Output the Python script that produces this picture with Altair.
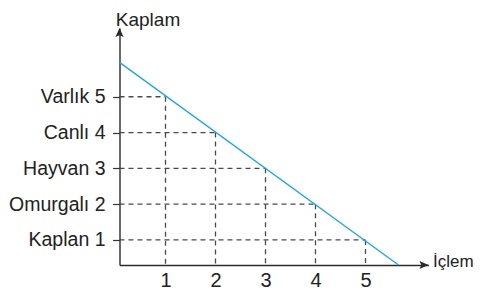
import altair as alt
import pandas as pd

# ---- data ----
levels = [1, 2, 3, 4, 5]
names = ["Kaplan", "Omurgalı", "Hayvan", "Canlı", "Varlık"]
x_ticks = [1, 2, 3, 4, 5]
point_x = [1, 2, 3, 4, 5]
point_y = [5, 4, 3, 2, 1]
line_x = [0.08, 5.66]
line_y = [5.96, 0.3]
X_MIN, X_MAX = 0.08, 6.26
Y_MIN, Y_MAX = 0.3, 6.92

FONT = "Liberation Sans"
AXIS_COLOR = "#2a2a2a"
TEXT_COLOR = "#222"
PX_PER_X = 50
PX_PER_Y = 35.8
PLOT_W = round((X_MAX - X_MIN) * PX_PER_X)
PLOT_H = round((Y_MAX - Y_MIN) * PX_PER_Y)
LEFT, TOP = 111.5, 20
SVG_W, SVG_H = 467, 284

xs = alt.Scale(domain=[X_MIN, X_MAX], nice=False, zero=False)
ys = alt.Scale(domain=[Y_MIN, Y_MAX], nice=False, zero=False)

label_expr = " : ".join(
    f"datum.value == {v} ? '{n} {v}'" for v, n in zip(levels, names)
) + " : ''"

df_pts = pd.DataFrame({"px": point_x, "py": point_y})
df_line = pd.DataFrame({"x": line_x, "y": line_y})
df_yarrow = pd.DataFrame({"x": [X_MIN], "y": [Y_MAX]})
df_xarrow = pd.DataFrame({"x": [X_MAX], "y": [Y_MIN]})

x_axis = alt.Axis(
    values=x_ticks, title="İçlem", grid=False, ticks=False, tickSize=0,
    labelPadding=5.5, labelFontSize=20, labelFont=FONT, labelColor=TEXT_COLOR,
    domainColor=AXIS_COLOR, domainWidth=1.4,
    titleFont=FONT, titleFontSize=17, titleFontWeight="normal", titleColor=TEXT_COLOR,
    titleAngle=0, titleAlign="left", titleBaseline="alphabetic",
    titleX=PLOT_W + 4, titleY=1.7, labelFlush=False, labelOverlap=False,
)
y_axis = alt.Axis(
    values=levels, labelExpr=label_expr, title="Kaplam", grid=False,
    ticks=True, tickSize=7, tickColor="#333", tickWidth=1.2,
    labelPadding=7.5, labelFontSize=19.5, labelFont=FONT, labelColor=TEXT_COLOR,
    domainColor=AXIS_COLOR, domainWidth=1.4,
    titleFont=FONT, titleFontSize=19, titleFontWeight="normal", titleColor=TEXT_COLOR,
    titleAngle=0, titleAlign="center", titleBaseline="alphabetic",
    titleX=28, titleY=-2.5, labelFlush=False, labelOverlap=False,
)

dash = dict(color="#4a4a4a", strokeWidth=1.3, strokeDash=[5, 4])

base_pts = alt.Chart(df_pts).transform_calculate(
    x0=str(X_MIN), y0=str(Y_MIN)
)
hrule = base_pts.mark_rule(**dash).encode(
    x=alt.X("x0:Q", scale=xs),
    x2="px:Q",
    y=alt.Y("py:Q", scale=ys),
)
vrule = base_pts.mark_rule(**dash).encode(
    x=alt.X("px:Q", scale=xs),
    y=alt.Y("py:Q", scale=ys),
    y2="y0:Q",
)
line = alt.Chart(df_line).mark_line(color="#1ba6e6", strokeWidth=1.3).encode(
    x=alt.X("x:Q", scale=xs, axis=x_axis),
    y=alt.Y("y:Q", scale=ys, axis=y_axis),
)
up_arrow = alt.Chart(df_yarrow).mark_point(
    shape="M0,0 L-0.9,2 L0,1.6 L0.9,2 Z", filled=True, size=81,
    color=AXIS_COLOR, opacity=1,
).encode(x=alt.X("x:Q", scale=xs), y=alt.Y("y:Q", scale=ys))
right_arrow = alt.Chart(df_xarrow).mark_point(
    shape="M0,0 L-2,-0.9 L-1.6,0 L-2,0.9 Z", filled=True, size=81,
    color=AXIS_COLOR, opacity=1,
).encode(x=alt.X("x:Q", scale=xs), y=alt.Y("y:Q", scale=ys))

chart = alt.layer(hrule, vrule, line, up_arrow, right_arrow).properties(
    width=PLOT_W, height=PLOT_H,
    autosize="none",
    padding={"left": LEFT, "top": TOP,
             "right": SVG_W - LEFT - PLOT_W, "bottom": SVG_H - TOP - PLOT_H},
).configure(background="white").configure_view(stroke=None)

chart.save("out.html", embed_options={"renderer": "svg", "actions": False})
